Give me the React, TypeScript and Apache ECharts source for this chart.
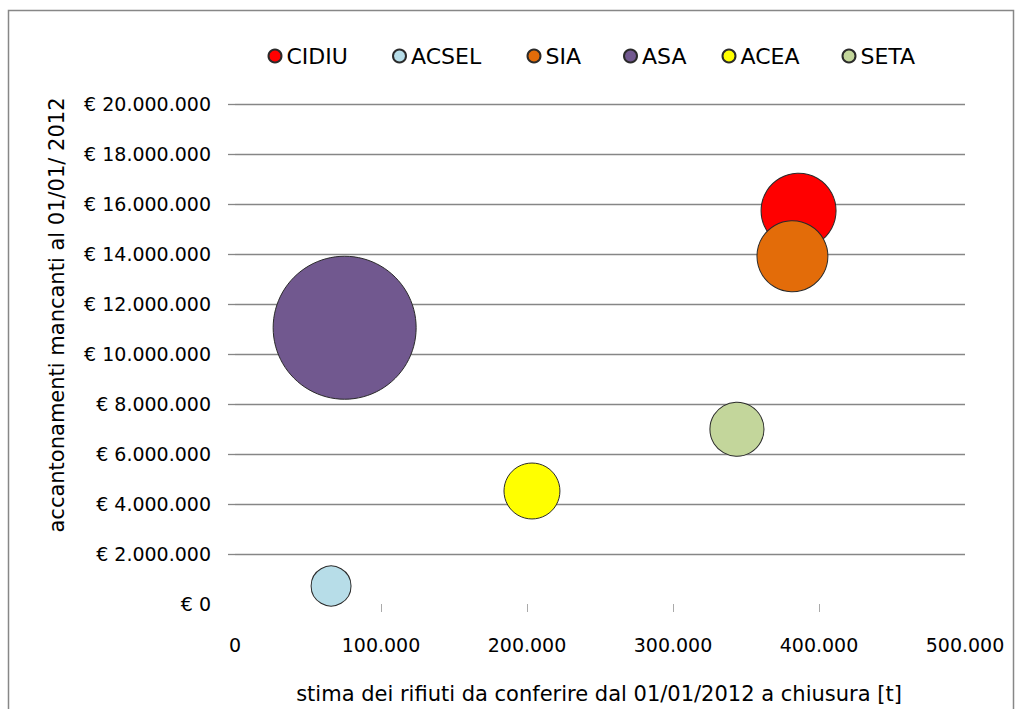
import React, { useEffect, useRef } from "react";
import * as echarts from "echarts";

const companies = ["CIDIU", "ACSEL", "SIA", "ASA", "ACEA", "SETA"];
const tonnesToClosure = [386000, 65800, 381800, 75100, 203400, 343800];
const missingProvisions = [15730000, 720000, 13910000, 11050000, 4520000, 6990000];
const bubbleValues = [275000, 78000, 246000, 1000000, 153000, 143000];
const colors = ["#FF0000", "#B7DDE8", "#E36C09", "#71588F", "#FFFF00", "#C3D69B"];
const legendLefts = [267.5, 392, 526.5, 623, 721.5, 841.5];
const xTickValues = [0, 100000, 200000, 300000, 400000, 500000];
const yTickValues = [0, 2000000, 4000000, 6000000, 8000000, 10000000, 12000000, 14000000, 16000000, 18000000, 20000000];

const xTitle = "stima dei rifiuti da conferire dal 01/01/2012 a chiusura [t]";
const yTitle = "accantonamenti mancanti al 01/01/ 2012";

const dots = (v: number) => String(Math.round(v)).replace(/\B(?=(\d{3})+(?!\d))/g, ".");

export default function App() {
  const ref = useRef<HTMLDivElement>(null);
  useEffect(() => {
    if (!ref.current) return;
    const chart = echarts.init(ref.current, undefined, { renderer: "svg" });
    const series = companies.map((name, i) => ({
      name,
      type: "scatter",
      clip: true,
      data: [[tonnesToClosure[i], missingProvisions[i], bubbleValues[i]]],
      symbolSize: (v: number[]) => 0.143 * Math.sqrt(v[2]),
      itemStyle: { color: colors[i], borderColor: "#2a2a2a", borderWidth: 1, opacity: 1 },
      emphasis: { disabled: true },
    }));
    const legends = companies.map((name, i) => ({
      data: [name],
      left: legendLefts[i],
      top: 45,
      padding: 0,
      icon: "circle",
      itemWidth: 13,
      itemHeight: 13,
      selectedMode: false,
      textStyle: { fontFamily: "DejaVu Sans", fontSize: 22, color: "#000" },
    }));
    chart.setOption({
      animation: false,
      backgroundColor: "#fff",
      grid: { left: 235, right: 57, top: 104, bottom: 105, containLabel: false },
      legend: legends,
      xAxis: {
        type: "value",
        min: xTickValues[0],
        max: xTickValues[xTickValues.length - 1],
        interval: 100000,
        axisLine: { show: false },
        axisTick: {
          show: true,
          length: 8,
          customValues: xTickValues.slice(1, 5),
          lineStyle: { color: "#aaaaaa", width: 1 },
        },
        splitLine: { show: false },
        axisLabel: {
          margin: 31,
          fontFamily: "DejaVu Sans",
          fontSize: 19,
          color: "#000",
          formatter: (v: number) => dots(v),
        },
      },
      yAxis: {
        type: "value",
        min: yTickValues[0],
        max: yTickValues[yTickValues.length - 1],
        interval: 2000000,
        axisLine: { show: false },
        axisTick: {
          show: true,
          length: 7,
          customValues: yTickValues.slice(1),
          lineStyle: { color: "#868686", width: 1.3 },
        },
        splitLine: { show: true, lineStyle: { color: "#868686", width: 1.3 } },
        axisLabel: {
          margin: 24,
          fontFamily: "DejaVu Sans",
          fontSize: 19,
          color: "#000",
          formatter: (v: number) => "€ " + dots(v),
        },
      },
      graphic: [
        {
          type: "rect",
          silent: true,
          shape: { x: 8.5, y: 10.5, width: 1005, height: 710 },
          style: { fill: "none", stroke: "#878787", lineWidth: 1.5 },
        },
        {
          type: "text",
          x: 599,
          y: 694,
          style: {
            text: xTitle,
            fontFamily: "DejaVu Sans",
            fontSize: 21,
            fill: "#000",
            align: "center",
            verticalAlign: "middle",
          },
        },
        {
          type: "text",
          x: 57,
          y: 315,
          rotation: Math.PI / 2,
          style: {
            text: yTitle,
            fontFamily: "DejaVu Sans",
            fontSize: 21,
            fill: "#000",
            align: "center",
            verticalAlign: "middle",
          },
        },
      ],
      series,
    });
    return () => chart.dispose();
  }, []);
  return (
    <div
      ref={ref}
      style={{ position: "fixed", left: 0, top: 0, width: 1022, height: 709, background: "#fff" }}
    />
  );
}
